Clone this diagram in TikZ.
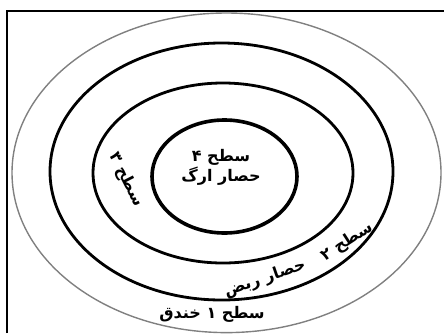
\documentclass[tikz,border=0pt]{standalone}
\usepackage{fontspec}
\newfontfamily\arabicfont[Script=Arabic]{DejaVu Sans}
\TeXXeTstate=1

\begin{document}
\begin{tikzpicture}[x=1pt, y=-1pt,
  ring/.style={draw=black, line width=2.8pt},
  core/.style={draw=black, line width=3.6pt},
  moat/.style={draw=black!50, line width=1.4pt},
  lbl/.style={font=\arabicfont\bfseries\fontsize{16}{20}\selectfont,
              inner sep=0pt, align=center}]

\useasboundingbox (0,0) rectangle (444,333);
\draw[line width=1.5pt] (7,333) -- (7,11) -- (444,11);

% levels, outside in
\draw[moat] (226.5,172.8) ellipse [x radius=214.5, y radius=159.8];
\draw[ring] (221.5,171.5) ellipse [x radius=171.5, y radius=128.5];
\draw[ring] (223,173) ellipse [x radius=130, y radius=90];
\draw[core] (224.5,176.5) ellipse [x radius=72.5, y radius=56.5];

\node[lbl] (l4) at (221,167) {\beginR سطح ۴\endR\\\beginR حصار ارگ\endR};
\node[lbl, rotate=-63] (l3) at (126,180) {\beginR سطح ۳\endR};
\node[lbl, rotate=33] (l2a) at (347,242) {\beginR سطح ۲\endR};
\node[lbl, rotate=19] (l2b) at (265,279) {\beginR حصار ربض\endR};
\node[lbl] (l1) at (212,314) {\beginR سطح ۱ خندق\endR};
\end{tikzpicture}
\end{document}
